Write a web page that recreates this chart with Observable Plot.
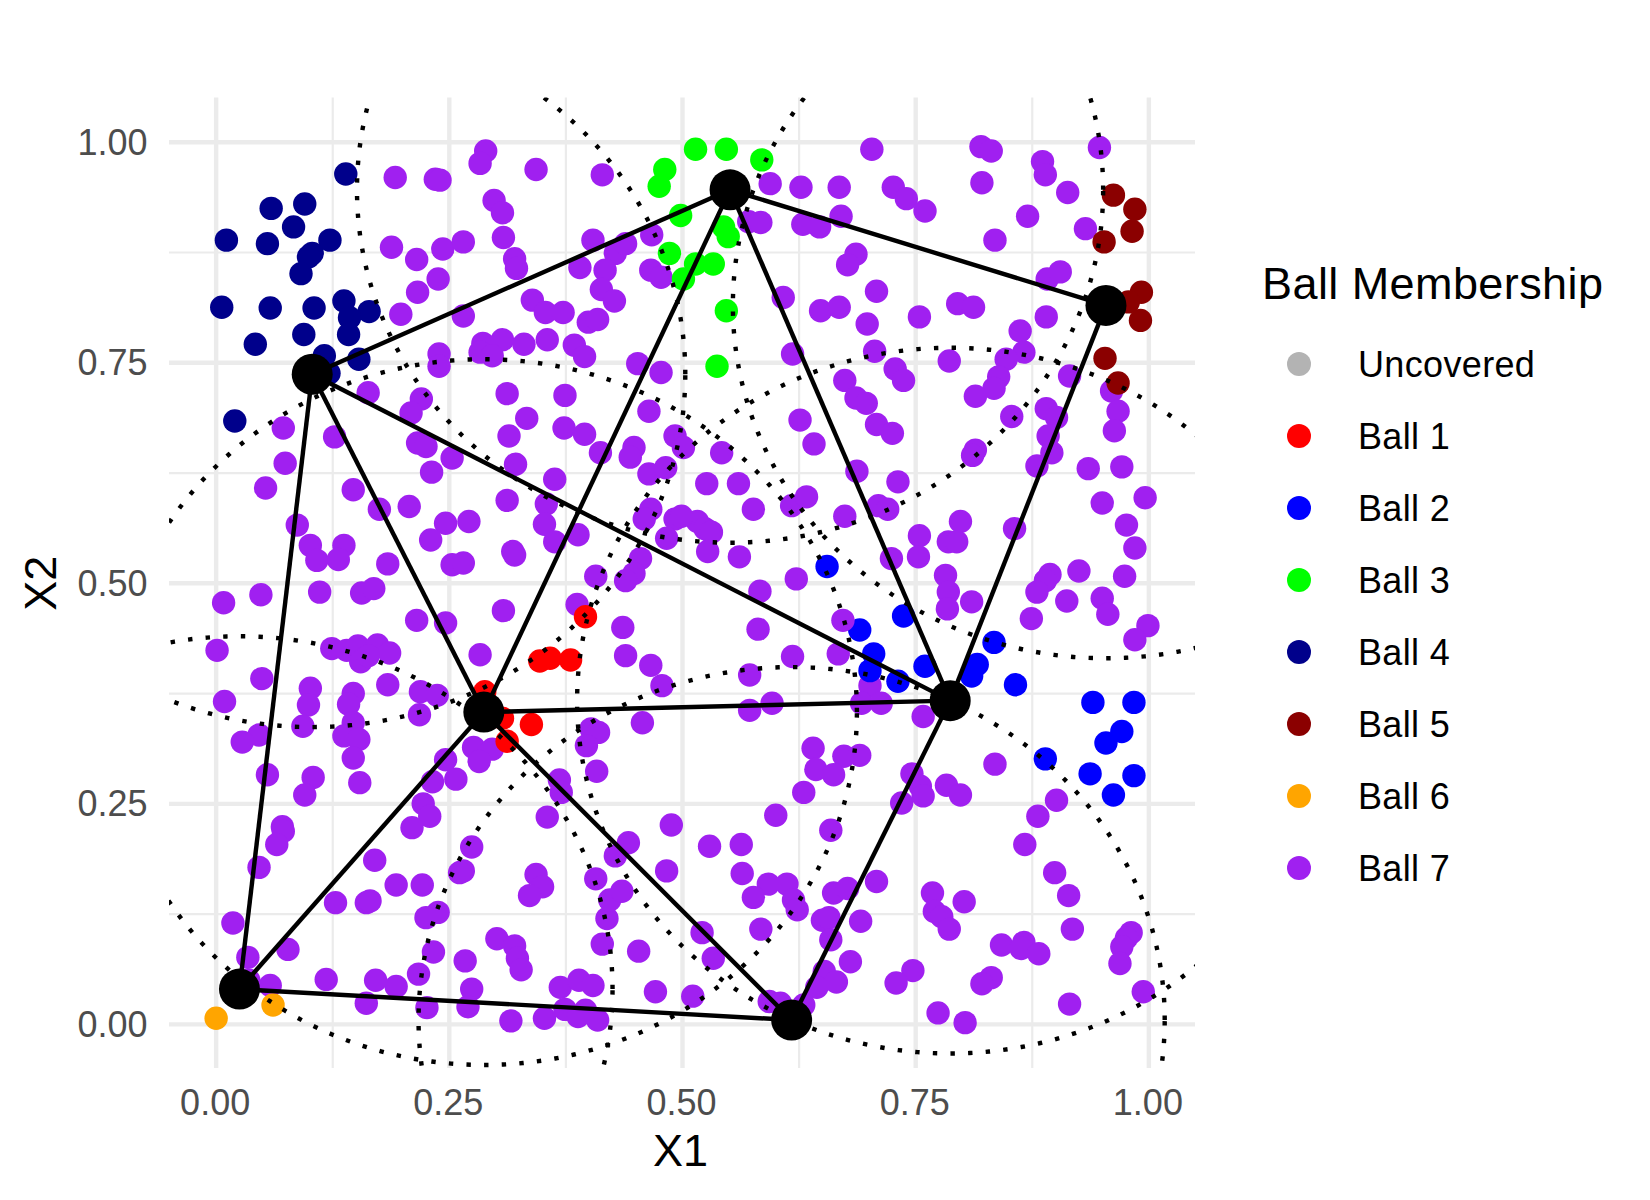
<!DOCTYPE html>
<html>
<head>
<meta charset="utf-8">
<script src="https://cdn.jsdelivr.net/npm/d3@7"></script>
<script src="https://cdn.jsdelivr.net/npm/@observablehq/plot@0.6"></script>
<style>
html,body{margin:0;padding:0;background:#fff;}
#wrap{position:relative;width:1650px;height:1200px;font-family:"Liberation Sans",sans-serif;overflow:hidden;}
.lt{position:absolute;white-space:nowrap;color:#000;}
.ld{position:absolute;border-radius:50%;}
</style>
</head>
<body>
<div id="wrap"></div>
<script>
const categories = ["Uncovered","Ball 1","Ball 2","Ball 3","Ball 4","Ball 5","Ball 6","Ball 7"];
const colors = ["#b3b3b3","#ff0000","#0000ff","#00ff00","#00008b","#8b0000","#ffa500","#a020f0"];
const ballRadius = 0.4;
const centers = [[.103,.737],[.551,.946],[.954,.815],[.287,.354],[.025,.040],[.617,.005],[.787,.367]];
const edges = [[0,1],[1,2],[1,3],[1,6],[2,6],[0,3],[0,4],[0,6],[3,6],[3,4],[3,5],[4,5],[5,6]];
const xTicks = [0,.25,.5,.75,1], yTicks = [0,.25,.5,.75,1];
const xMinor = [.125,.375,.625,.875], yMinor = [.125,.375,.625,.875];

const ball1 = [[.396,.462],[.347,.412],[.358,.415],[.380,.413],[.288,.377],[.307,.347],[.338,.340],[.312,.321]];
const ball2 = [[.655,.519],[.737,.463],[.690,.447],[.705,.420],[.701,.401],[.731,.389],[.760,.406],[.834,.433],[.816,.408],[.810,.395],[.857,.385],[.940,.365],[.984,.365],[.971,.332],[.954,.319],[.889,.301],[.937,.284],[.984,.282],[.962,.260]];
const ball3 = [[.481,.969],[.475,.950],[.514,.992],[.547,.992],[.585,.980],[.498,.917],[.544,.904],[.549,.893],[.486,.874],[.514,.862],[.533,.862],[.501,.845],[.547,.809],[.537,.746]];
const ball4 = [[.139,.964],[.059,.925],[.095,.930],[.083,.904],[.011,.889],[.055,.885],[.122,.889],[.103,.874],[.099,.870],[.091,.851],[.006,.813],[.058,.812],[.105,.812],[.137,.820],[.164,.808],[.143,.801],[.142,.782],[.094,.782],[.042,.771],[.116,.758],[.153,.754],[.121,.738],[.020,.684]];
const ball5 = [[.962,.940],[.985,.924],[.982,.899],[.952,.887],[.992,.830],[.978,.819],[.991,.798],[.953,.755],[.967,.727]];
const ball6 = [[.000,.007],[.061,.022]];
const ball7upperLeft = [[.192,.960],[.235,.958],[.240,.957],[.289,.990],[.283,.976],[.343,.969],[.414,.963],[.298,.934],[.307,.920],[.308,.892],[.188,.881],[.215,.867],[.243,.879],[.265,.887],[.238,.845],[.216,.830],[.198,.805],[.265,.803],[.320,.868],[.322,.857],[.404,.889],[.428,.874],[.439,.885],[.467,.895],[.390,.858],[.417,.855],[.413,.833],[.427,.820],[.466,.855],[.477,.847],[.339,.821],[.353,.807],[.372,.807],[.399,.796],[.409,.799],[.286,.772],[.307,.776],[.283,.762],[.296,.758],[.330,.771],[.355,.776],[.384,.770],[.395,.757],[.239,.760],[.239,.746],[.452,.749],[.477,.739],[.163,.716],[.220,.709],[.209,.693],[.312,.715],[.374,.713],[.464,.695],[.333,.687],[.373,.676],[.395,.669],[.314,.667],[.072,.676],[.127,.666],[.074,.636],[.053,.608],[.216,.659],[.225,.655],[.253,.642],[.231,.626],[.321,.635],[.363,.618],[.412,.648],[.448,.654],[.444,.643],[.492,.667],[.501,.654],[.464,.624],[.482,.631],[.147,.606],[.175,.584],[.207,.587],[.312,.594],[.354,.590],[.352,.567],[.363,.547],[.388,.555],[.466,.584],[.459,.573],[.492,.573],[.483,.551],[.246,.568],[.271,.570],[.230,.549],[.318,.536],[.320,.532],[.087,.566],[.101,.543],[.137,.543],[.108,.526],[.131,.527],[.184,.522],[.253,.521],[.265,.523],[.455,.528],[.448,.511],[.407,.508],[.439,.503]];
const ball7upperRight = [[.703,.992],[.820,.995],[.831,.990],[.886,.978],[.889,.963],[.913,.943],[.947,.994],[.594,.953],[.627,.949],[.668,.949],[.726,.949],[.740,.936],[.760,.922],[.821,.954],[.870,.916],[.932,.902],[.835,.889],[.571,.910],[.584,.909],[.629,.907],[.647,.904],[.670,.916],[.686,.873],[.677,.861],[.891,.845],[.905,.853],[.708,.831],[.608,.824],[.648,.809],[.668,.813],[.698,.794],[.754,.802],[.795,.817],[.812,.813],[.890,.802],[.862,.786],[.866,.762],[.847,.754],[.839,.734],[.834,.721],[.814,.712],[.915,.735],[.706,.763],[.618,.760],[.786,.752],[.674,.730],[.728,.743],[.737,.730],[.686,.710],[.697,.704],[.708,.680],[.725,.670],[.626,.685],[.641,.658],[.853,.689],[.890,.698],[.901,.688],[.892,.667],[.896,.648],[.880,.633],[.960,.718],[.967,.695],[.963,.673],[.935,.630],[.971,.632],[.996,.597],[.950,.591],[.976,.566],[.985,.540],[.814,.651],[.811,.645],[.542,.648],[.687,.627],[.731,.615],[.526,.613],[.560,.613],[.576,.584],[.617,.588],[.633,.598],[.674,.576],[.710,.588],[.720,.584],[.798,.570],[.856,.562],[.754,.554],[.785,.547],[.794,.547],[.753,.530],[.724,.528],[.516,.570],[.524,.562],[.531,.558],[.499,.576],[.527,.536],[.561,.530],[.782,.509],[.894,.510],[.889,.503],[.925,.514],[.974,.508],[.622,.505]];
const ball7lowerLeft = [[.008,.478],[.048,.487],[.111,.490],[.156,.489],[.169,.494],[.387,.476],[.308,.469],[.215,.458],[.246,.455],[.001,.424],[.124,.426],[.140,.424],[.152,.429],[.173,.430],[.186,.421],[.155,.411],[.163,.418],[.283,.419],[.184,.385],[.049,.392],[.009,.366],[.101,.381],[.099,.362],[.147,.375],[.142,.363],[.147,.342],[.093,.338],[.137,.327],[.153,.323],[.147,.302],[.219,.377],[.237,.373],[.218,.351],[.046,.328],[.028,.320],[.055,.283],[.104,.280],[.095,.260],[.154,.274],[.436,.450],[.439,.418],[.466,.407],[.478,.384],[.457,.342],[.402,.335],[.410,.331],[.397,.316],[.408,.287],[.368,.277],[.370,.263],[.355,.235],[.276,.314],[.296,.312],[.282,.298],[.246,.300],[.232,.275],[.257,.278],[.222,.250],[.229,.236],[.210,.223],[.170,.186],[.071,.224],[.072,.219],[.065,.204],[.046,.178],[.193,.158],[.221,.158],[.274,.201],[.265,.174],[.261,.172],[.128,.138],[.161,.138],[.165,.140],[.238,.127],[.225,.121],[.233,.082],[.018,.115],[.034,.076],[.077,.085],[.035,.050],[.058,.044],[.118,.051],[.171,.050],[.193,.043],[.161,.024],[.217,.057],[.226,.019],[.267,.072],[.274,.040],[.270,.020],[.301,.097],[.320,.089],[.323,.075],[.327,.062],[.316,.004],[.352,.007],[.369,.042],[.389,.050],[.404,.044],[.374,.017],[.396,.016],[.388,.009],[.409,.005],[.471,.037],[.453,.083],[.414,.091],[.419,.120],[.422,.141],[.435,.151],[.407,.165],[.343,.170],[.350,.156],[.336,.146],[.442,.206],[.428,.191],[.483,.174],[.488,.226]];
const ball7lowerRight = [[.583,.491],[.785,.490],[.784,.471],[.810,.479],[.880,.490],[.912,.480],[.874,.460],[.950,.483],[.956,.465],[.999,.452],[.985,.436],[.581,.448],[.618,.417],[.667,.420],[.572,.396],[.701,.384],[.692,.364],[.713,.364],[.596,.364],[.572,.356],[.758,.349],[.640,.313],[.673,.304],[.690,.305],[.643,.289],[.662,.283],[.630,.263],[.600,.237],[.659,.220],[.529,.202],[.563,.204],[.564,.171],[.592,.159],[.612,.159],[.576,.144],[.619,.141],[.623,.130],[.584,.108],[.521,.104],[.533,.075],[.511,.032],[.662,.149],[.677,.154],[.708,.162],[.650,.118],[.657,.121],[.659,.096],[.691,.117],[.680,.071],[.652,.060],[.665,.048],[.644,.042],[.593,.026],[.605,.024],[.630,.022],[.746,.284],[.755,.270],[.758,.259],[.735,.251],[.783,.271],[.798,.260],[.835,.295],[.901,.254],[.881,.236],[.867,.204],[.899,.172],[.914,.146],[.918,.108],[.768,.149],[.802,.139],[.770,.128],[.778,.122],[.786,.108],[.842,.090],[.866,.093],[.863,.086],[.882,.080],[.747,.061],[.729,.047],[.831,.053],[.821,.046],[.774,.013],[.803,.002],[.915,.023],[.994,.037],[.981,.104],[.976,.098],[.971,.088],[.969,.069]];
const ball7overBlue = [[.672,.458]];

const toRows = (arr, ball) => arr.map(([x, y]) => ({x, y, ball}));
const points = [
  ...toRows(ball7upperLeft,"Ball 7"), ...toRows(ball7upperRight,"Ball 7"),
  ...toRows(ball7lowerLeft,"Ball 7"), ...toRows(ball7lowerRight,"Ball 7"),
  ...toRows(ball1,"Ball 1"), ...toRows(ball2,"Ball 2"), ...toRows(ball7overBlue,"Ball 7"), ...toRows(ball3,"Ball 3"),
  ...toRows(ball4,"Ball 4"), ...toRows(ball5,"Ball 5"), ...toRows(ball6,"Ball 6")
];
// Boundary of each covering ball: radius ballRadius around its centre.
const rings = centers.flatMap(([cx, cy], k) =>
  d3.range(0, 361, 1).map(a => ({k, x: cx + ballRadius*Math.cos(a*Math.PI/180), y: cy + ballRadius*Math.sin(a*Math.PI/180)})));
const links = edges.map(([a, b]) => ({x1: centers[a][0], y1: centers[a][1], x2: centers[b][0], y2: centers[b][1]}));
const fmt = d3.format(".2f");

const chart = Plot.plot({
  width: 1650, height: 1200,
  marginLeft: 169, marginRight: 455, marginTop: 97.6, marginBottom: 132,
  style: {fontFamily: '"Liberation Sans", sans-serif', background: "#fff"},
  x: {domain: [-0.05, 1.05]},
  y: {domain: [-0.05, 1.05]},
  color: {domain: categories, range: colors},
  marks: [
    Plot.gridX(xMinor, {stroke: "#ebebeb", strokeOpacity: 1, strokeWidth: 2.2}),
    Plot.gridY(yMinor, {stroke: "#ebebeb", strokeOpacity: 1, strokeWidth: 2.2}),
    Plot.gridX(xTicks, {stroke: "#ebebeb", strokeOpacity: 1, strokeWidth: 4.4}),
    Plot.gridY(yTicks, {stroke: "#ebebeb", strokeOpacity: 1, strokeWidth: 4.4}),
    Plot.axisX({ticks: xTicks, tickFormat: fmt, tickSize: 0, tickPadding: 21, dx: -1, fontSize: 36, color: "#4d4d4d", label: null}),
    Plot.axisY({ticks: yTicks, tickFormat: fmt, tickSize: 0, tickPadding: 22, dy: 1, fontSize: 36, color: "#4d4d4d", label: null}),
    Plot.text(["X1"], {frameAnchor: "bottom", dx: -2, dy: 97, fontSize: 45, fill: "#000"}),
    Plot.text(["X2"], {frameAnchor: "left", textAnchor: "middle", rotate: -90, dx: -128, fontSize: 45, fill: "#000"}),
    Plot.dot(points, {x: "x", y: "y", fill: "ball", r: 11.7}),
    Plot.line(rings, {x: "x", y: "y", z: "k", stroke: "#000", strokeWidth: 4.41, strokeDasharray: "4.41 13.23", strokeLinecap: "butt", clip: true}),
    Plot.link(links, {x1: "x1", y1: "y1", x2: "x2", y2: "y2", stroke: "#000", strokeWidth: 4.41}),
    Plot.dot(centers, {x: d => d[0], y: d => d[1], fill: "#000", r: 20.5})
  ]
});
const wrap = document.getElementById("wrap");
wrap.appendChild(chart);

const title = document.createElement("div");
title.className = "lt";
title.textContent = "Ball Membership";
title.style.cssText = "left:1262px;top:258px;font-size:45px;line-height:52px;letter-spacing:.42px;";
wrap.appendChild(title);
categories.forEach((c, i) => {
  const cy = 364 + 72*i;
  const d = document.createElement("div");
  d.className = "ld";
  d.style.cssText = `left:1287px;top:${cy-12}px;width:24px;height:24px;background:${colors[i]};`;
  wrap.appendChild(d);
  const t = document.createElement("div");
  t.className = "lt";
  t.textContent = c;
  t.style.cssText = `left:1358px;top:${cy-20}px;font-size:36px;line-height:42px;letter-spacing:.35px;`;
  wrap.appendChild(t);
});
</script>
</body>
</html>
